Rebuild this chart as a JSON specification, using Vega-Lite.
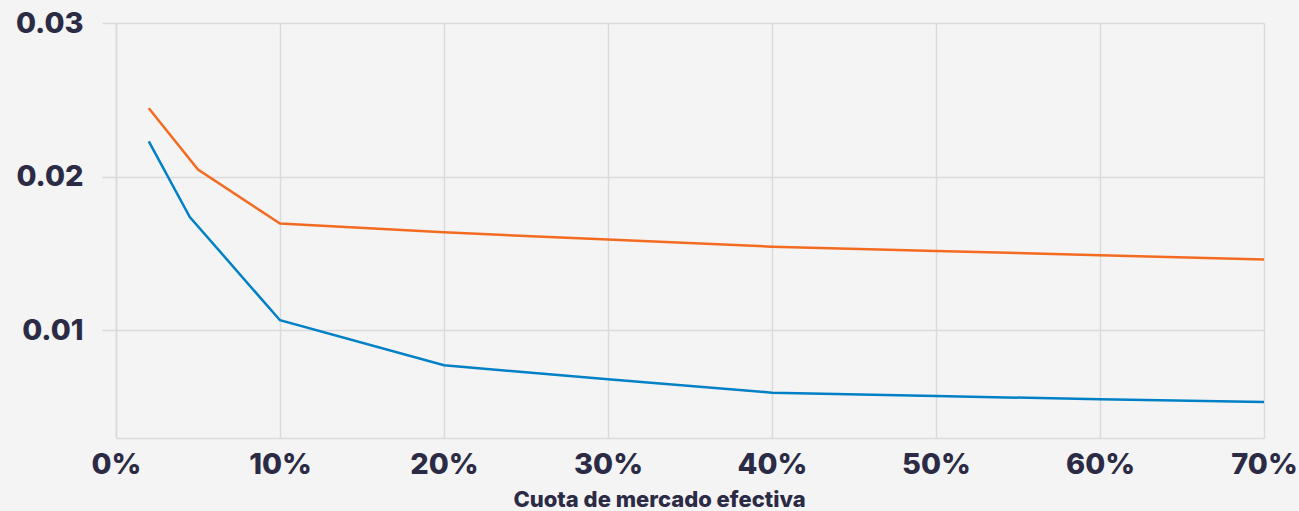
{
  "$schema": "https://vega.github.io/schema/vega-lite/v6.json",
  "autosize": {"type": "none"},
  "width": 1148,
  "height": 415,
  "padding": {"left": 116, "top": 23, "right": 35, "bottom": 73},
  "background": "#f4f4f4",
  "config": {
    "view": {"stroke": null},
    "font": "Inter"
  },
  "data": {
    "values": [
      {"cuota": 0.02, "valor": 0.02445, "serie": "A"},
      {"cuota": 0.05, "valor": 0.02046, "serie": "A"},
      {"cuota": 0.10, "valor": 0.01695, "serie": "A"},
      {"cuota": 0.20, "valor": 0.01638, "serie": "A"},
      {"cuota": 0.30, "valor": 0.01591, "serie": "A"},
      {"cuota": 0.40, "valor": 0.01545, "serie": "A"},
      {"cuota": 0.50, "valor": 0.01517, "serie": "A"},
      {"cuota": 0.60, "valor": 0.01489, "serie": "A"},
      {"cuota": 0.70, "valor": 0.01461, "serie": "A"},
      {"cuota": 0.02, "valor": 0.0223, "serie": "B"},
      {"cuota": 0.045, "valor": 0.01738, "serie": "B"},
      {"cuota": 0.10, "valor": 0.01066, "serie": "B"},
      {"cuota": 0.20, "valor": 0.00773, "serie": "B"},
      {"cuota": 0.30, "valor": 0.00682, "serie": "B"},
      {"cuota": 0.40, "valor": 0.00595, "serie": "B"},
      {"cuota": 0.50, "valor": 0.00573, "serie": "B"},
      {"cuota": 0.60, "valor": 0.00552, "serie": "B"},
      {"cuota": 0.70, "valor": 0.00534, "serie": "B"}
    ]
  },
  "mark": {"type": "line", "strokeWidth": 2.5},
  "encoding": {
    "x": {
      "field": "cuota",
      "type": "quantitative",
      "scale": {"domain": [0, 0.7], "nice": false, "zero": false},
      "axis": {
        "title": "Cuota de mercado efectiva",
        "format": ".0%",
        "values": [0, 0.1, 0.2, 0.3, 0.4, 0.5, 0.6, 0.7],
        "grid": true,
        "gridColor": "#d9d9de",
        "gridWidth": 1.5,
        "domainColor": "#d9d9de",
        "domainWidth": 1.5,
        "ticks": false,
        "labelFont": "Inter",
        "labelFontSize": 29,
        "labelFontWeight": 800,
        "labelColor": "#2b2b45",
        "labelPadding": 12,
        "labelFlush": false,
        "labelOverlap": false,
        "titleFont": "Inter",
        "titleFontSize": 22,
        "titleFontWeight": 800,
        "titleColor": "#2b2b45",
        "titleX": 543,
        "titleY": 51,
        "titleBaseline": "top",
        "titleAnchor": "middle",
        "titleAlign": "center"
      }
    },
    "y": {
      "field": "valor",
      "type": "quantitative",
      "scale": {"domain": [0.003, 0.03], "nice": false, "zero": false},
      "axis": {
        "title": null,
        "values": [0.01, 0.02, 0.03],
        "format": ".2f",
        "grid": true,
        "gridColor": "#d9d9de",
        "gridWidth": 1.5,
        "domainColor": "#d9d9de",
        "domainWidth": 1.5,
        "ticks": true,
        "tickColor": "#d9d9de",
        "tickWidth": 1.5,
        "tickSize": 14,
        "labelFont": "Inter",
        "labelFontSize": 29,
        "labelFontWeight": 800,
        "labelColor": "#2b2b45",
        "labelPadding": 19,
        "labelFlush": false,
        "labelOverlap": false
      }
    },
    "color": {
      "field": "serie",
      "type": "nominal",
      "scale": {"domain": ["A", "B"], "range": ["#f26b21", "#0081c6"]},
      "legend": null
    }
  }
}
